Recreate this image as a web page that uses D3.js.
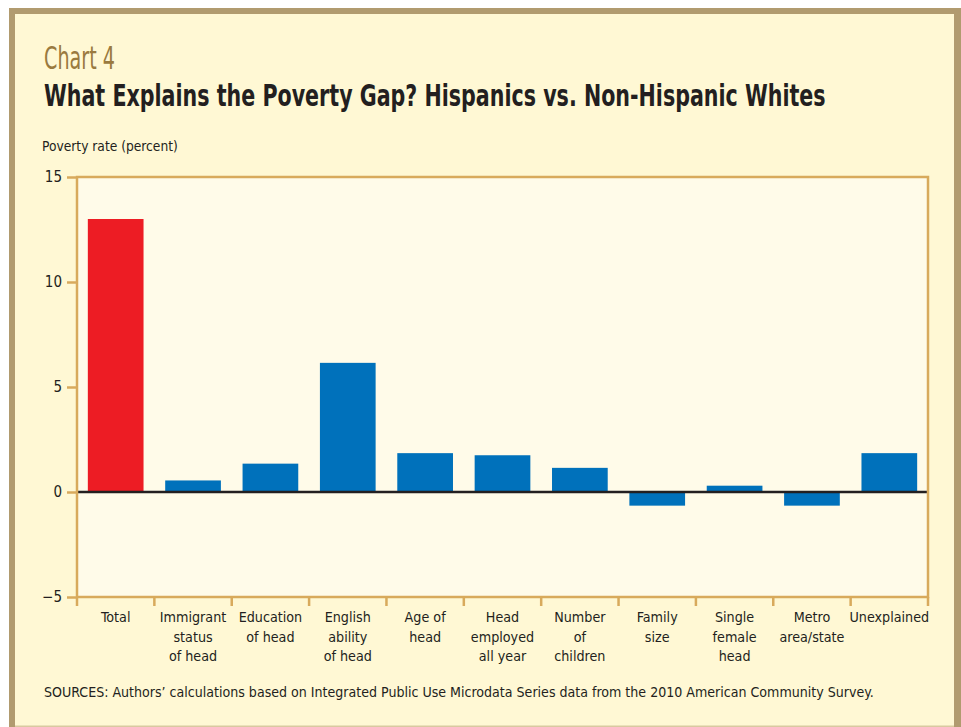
<!DOCTYPE html>
<html>
<head>
<meta charset="utf-8">
<script src="https://cdn.jsdelivr.net/npm/d3@7"></script>
<style>
  html, body { margin: 0; padding: 0; background: #ffffff; }
  svg { display: block; }
  text { font-family: "Liberation Sans Narrow", "DejaVu Sans Condensed", "Liberation Sans", sans-serif; }
</style>
</head>
<body>
<svg id="chart" width="961" height="727"></svg>
<script>
// ---- Data ----
const categories = [
  ["Total"],
  ["Immigrant", "status", "of head"],
  ["Education", "of head"],
  ["English", "ability", "of head"],
  ["Age of", "head"],
  ["Head", "employed", "all year"],
  ["Number", "of", "children"],
  ["Family", "size"],
  ["Single", "female", "head"],
  ["Metro", "area/state"],
  ["Unexplained"]
];
const values = [13.0, 0.55, 1.35, 6.15, 1.85, 1.75, 1.15, -0.65, 0.3, -0.65, 1.85];
const barKinds = ["total", "factor", "factor", "factor", "factor", "factor", "factor", "factor", "factor", "factor", "factor"];
const yTicks = [-5, 0, 5, 10, 15];
const yDomain = [-5, 15];

const chartLabel = "Chart 4";
const titleText = "What Explains the Poverty Gap? Hispanics vs. Non-Hispanic Whites";
const yAxisTitle = "Poverty rate (percent)";
const sourceText = "SOURCES: Authors\u2019 calculations based on Integrated Public Use Microdata Series data from the 2010 American Community Survey.";

// ---- Layout ----
const W = 961, H = 727;
const plot = { left: 77, right: 928, top: 177, bottom: 597 };
const colors = { total: "#ed1c24", factor: "#0071bb" };

const svg = d3.select("#chart");

// text fitted to a target width by horizontal scaling
function fittedText(x0, y0, width, size, str, attrs) {
  const g = svg.append("g");
  const t = g.append("text").attr("x", 0).attr("y", 0).attr("font-size", size).text(str);
  Object.entries(attrs || {}).forEach(([k, v]) => t.attr(k, v));
  const natural = t.node().getComputedTextLength();
  const s = width / natural;
  g.attr("transform", `translate(${x0},${y0}) scale(${s},1)`);
  return t;
}

// outer background and frame
svg.append("rect").attr("x", 0).attr("y", 0).attr("width", W).attr("height", H).attr("fill", "#ffffff");
svg.append("rect").attr("x", 9).attr("y", 8).attr("width", W - 9).attr("height", H - 8).attr("fill", "#b19b6f");
svg.append("rect").attr("x", 15).attr("y", 14).attr("width", 939).attr("height", 712).attr("fill", "#fff8d4");
svg.append("rect").attr("x", 15).attr("y", 725.5).attr("width", 939).attr("height", 1.5).attr("fill", "#d9c9a0");

// titles
fittedText(44, 69, 71, 32, chartLabel, { fill: "#9a7a3f" });
fittedText(44, 106, 782, 30, titleText, { fill: "#231f20", "font-weight": "bold" });
fittedText(42, 151, 136, 14.5, yAxisTitle, { fill: "#231f20" });

// scales
const x = d3.scaleBand()
  .domain(d3.range(categories.length))
  .range([plot.left, plot.right])
  .paddingInner(0.28)
  .paddingOuter(0.14);
const y = d3.scaleLinear().domain(yDomain).range([plot.bottom, plot.top]);

// plot background
svg.append("rect")
  .attr("x", plot.left).attr("y", plot.top)
  .attr("width", plot.right - plot.left).attr("height", plot.bottom - plot.top)
  .attr("fill", "#fffbe9");

// bars
svg.append("g").selectAll("rect")
  .data(values)
  .join("rect")
  .attr("x", (d, i) => x(i))
  .attr("width", x.bandwidth())
  .attr("y", d => y(Math.max(0, d)))
  .attr("height", d => Math.abs(y(d) - y(0)))
  .attr("fill", (d, i) => colors[barKinds[i]]);

// zero line
svg.append("line")
  .attr("x1", plot.left).attr("x2", plot.right)
  .attr("y1", y(0)).attr("y2", y(0))
  .attr("stroke", "#231f20").attr("stroke-width", 2.5);

// plot frame
const frameColor = "#d8aa5c";
svg.append("rect")
  .attr("x", plot.left).attr("y", plot.top)
  .attr("width", plot.right - plot.left).attr("height", plot.bottom - plot.top)
  .attr("fill", "none").attr("stroke", frameColor).attr("stroke-width", 2.5);

// y axis
const yAxis = d3.axisLeft(y).tickValues(yTicks).tickSize(10).tickPadding(5)
  .tickFormat(d => d < 0 ? "\u2212" + Math.abs(d) : String(d));
const gy = svg.append("g").attr("transform", `translate(${plot.left},0)`).call(yAxis);
gy.select(".domain").remove();
gy.selectAll(".tick line").attr("stroke", frameColor).attr("stroke-width", 2.5);
gy.selectAll(".tick text").attr("font-size", 15).attr("fill", "#231f20")
  .attr("font-family", "'Liberation Sans Narrow', 'DejaVu Sans Condensed', sans-serif");

// category boundary ticks
const boundaries = d3.range(categories.length + 1).map(i => plot.left + i * (plot.right - plot.left) / categories.length);
svg.append("g").selectAll("line")
  .data(boundaries)
  .join("line")
  .attr("x1", d => d).attr("x2", d => d)
  .attr("y1", plot.bottom).attr("y2", plot.bottom + 9)
  .attr("stroke", frameColor).attr("stroke-width", 2.5);

// category labels
const lab = svg.append("g");
categories.forEach((lines, i) => {
  const cx = x(i) + x.bandwidth() / 2;
  const t = lab.append("text")
    .attr("x", cx).attr("y", 622)
    .attr("text-anchor", "middle")
    .attr("font-size", 14.2).attr("fill", "#231f20");
  lines.forEach((ln, j) => {
    t.append("tspan").attr("x", cx).attr("y", 622 + j * 19.7).text(ln);
  });
});

// source
fittedText(44, 697, 831, 14, sourceText, { fill: "#231f20" });
</script>
</body>
</html>
